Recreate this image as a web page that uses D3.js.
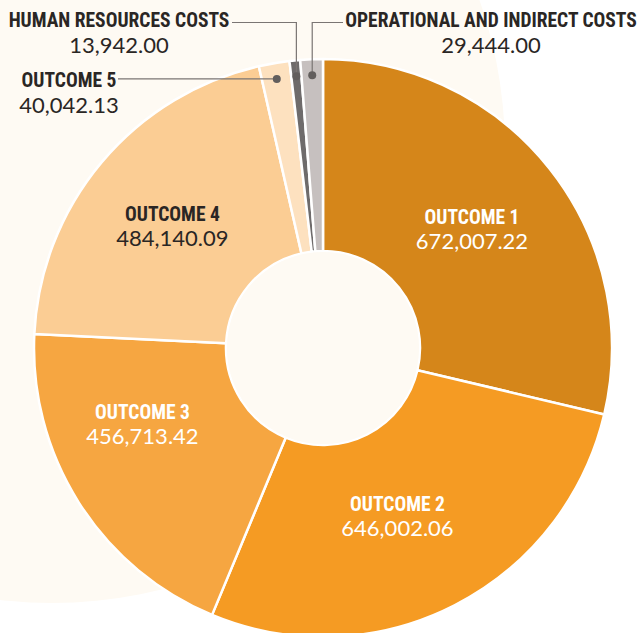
<!DOCTYPE html>
<html>
<head>
<meta charset="utf-8">
<script src="https://cdn.jsdelivr.net/npm/d3@7"></script>
<style>
  body { margin: 0; background: #fff; }
  .cat { font-family: 'Liberation Sans Narrow', 'Roboto Condensed', 'DejaVu Sans Condensed', sans-serif; font-weight: bold; font-size: 19.5px; }
  .num { font-family: Lato, 'Open Sans', sans-serif; font-size: 22px; }
</style>
</head>
<body>
<svg id="viz"></svg>
<script>
(function() {
  const categories = ['OUTCOME 1', 'OUTCOME 2', 'OUTCOME 3', 'OUTCOME 4', 'OUTCOME 5',
    'HUMAN RESOURCES COSTS', 'OPERATIONAL AND INDIRECT COSTS'];
  const amounts = [672007.22, 646002.06, 456713.42, 484140.09, 40042.13, 13942.00, 29444.00];
  const colors = ['#d5861a', '#f59b23', '#f6a641', '#fbcd94', '#fde1bf', '#6e6b6b', '#c6c0bf'];
  const textColors = ['#fff', '#fff', '#fff', '#2a2624'];

  const width = 639, height = 633;
  const cx = 323, cy = 348;
  const outerR = 289, innerR = 97;
  const beige = '#fefaf3';
  const ink = '#2a2624';

  const data = categories.map((c, i) => ({ name: c, value: amounts[i], color: colors[i], idx: i }));

  const svg = d3.select('#viz')
    .attr('width', width)
    .attr('height', height)
    .attr('viewBox', `0 0 ${width} ${height}`);

  // soft background disc
  svg.append('circle')
    .attr('cx', 52).attr('cy', 150).attr('r', 453)
    .attr('fill', beige);

  const g = svg.append('g').attr('transform', `translate(${cx},${cy})`);

  const pie = d3.pie().sort(null).value(d => d.value);
  const arcs = pie(data);

  const arc = d3.arc().innerRadius(innerR).outerRadius(outerR);
  const labelArc = d3.arc().innerRadius(190).outerRadius(190);
  const dotArc = d3.arc().innerRadius(273).outerRadius(273);

  g.selectAll('path.slice')
    .data(arcs)
    .join('path')
    .attr('class', 'slice')
    .attr('d', arc)
    .attr('fill', d => d.data.color)
    .attr('stroke', '#fff')
    .attr('stroke-width', 2.5)
    .attr('stroke-linejoin', 'round');

  g.append('circle').attr('r', innerR - 1).attr('fill', beige);

  const fmt = d3.format(',.2f');

  // labels inside the big slices
  const nudge = { 0: [0, 0], 1: [-12, 0], 2: [-20, -25], 3: [-5, 1] };
  const inside = arcs.filter(d => d.data.idx < 4);
  const il = g.selectAll('g.inlabel')
    .data(inside)
    .join('g')
    .attr('class', 'inlabel')
    .attr('transform', d => {
      const [x, y] = labelArc.centroid(d);
      const n = nudge[d.data.idx];
      return `translate(${x + n[0]},${y + n[1]})`;
    });
  il.append('text').attr('class', 'cat').attr('text-anchor', 'middle')
    .attr('y', -6).attr('fill', d => textColors[d.data.idx]).text(d => d.data.name);
  il.append('text').attr('class', 'num').attr('text-anchor', 'middle')
    .attr('y', 19).attr('fill', d => textColors[d.data.idx]).text(d => fmt(d.data.value));

  // callouts for the thin slices
  const callout = {
    4: { tx: 69, ty: 87, line: (p) => [[p[0], p[1]], [118, p[1]]] },
    5: { tx: 119, ty: 27, line: (p) => [[p[0], p[1]], [p[0], 22.5], [232, 22.5]] },
    6: { tx: 491, ty: 27, line: (p) => [[p[0], p[1]], [p[0], 22.5], [343, 22.5]] }
  };

  const outside = arcs.filter(d => d.data.idx >= 4);
  outside.forEach(d => {
    const c = dotArc.centroid(d);
    const p = [c[0] + cx, c[1] + cy];
    const spec = callout[d.data.idx];
    svg.append('path')
      .attr('d', d3.line()(spec.line(p)))
      .attr('fill', 'none')
      .attr('stroke', '#7a7573')
      .attr('stroke-width', 1.2);
    svg.append('circle')
      .attr('cx', p[0]).attr('cy', p[1]).attr('r', 4)
      .attr('fill', '#625e5d');
    svg.append('text').attr('class', 'cat').attr('text-anchor', 'middle')
      .attr('x', spec.tx).attr('y', spec.ty).attr('fill', ink).text(d.data.name);
    svg.append('text').attr('class', 'num').attr('text-anchor', 'middle')
      .attr('x', spec.tx).attr('y', spec.ty + 26).attr('fill', ink).text(fmt(d.data.value));
  });
})();
</script>
</body>
</html>
